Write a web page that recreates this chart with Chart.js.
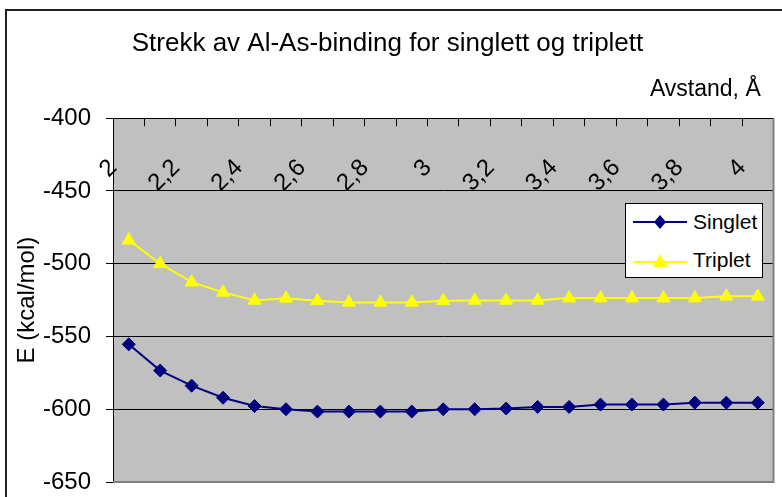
<!DOCTYPE html>
<html>
<head>
<meta charset="utf-8">
<script src="https://cdn.jsdelivr.net/npm/chart.js@4.4.0/dist/chart.umd.min.js"></script>
<style>
  body { margin: 0; background: #fff; overflow: hidden; }
  #wrap { position: relative; width: 782px; height: 497px; }
  #frame { position: absolute; left: 5px; top: 9px; width: 800px; height: 600px;
           border-left: 2px solid #222; border-top: 2px solid #222; pointer-events: none; }
  #legend { position: absolute; left: 625px; top: 203px; width: 136px; height: 73px;
            background: #fff; border: 1px solid #000;
            font: 21px "Liberation Sans", Arial, sans-serif; color: #000; }
  .row { position: absolute; left: 7px; height: 24px; display: flex; align-items: center; }
  .row svg { margin-right: 6px; }
</style>
</head>
<body>
<div id="wrap">
  <canvas id="chart" width="782" height="497"></canvas>
  <div id="frame"></div>
  <div id="legend">
    <div class="row" style="top:6px">
      <svg width="54" height="20"><line x1="0" y1="10" x2="54" y2="10" stroke="#000080" stroke-width="2"/>
        <polygon points="27,3 33,10 27,17 21,10" fill="#000080"/></svg>Singlet</div>
    <div class="row" style="top:44px">
      <svg width="54" height="20"><line x1="0" y1="12" x2="54" y2="12" stroke="#ffff00" stroke-width="2"/>
        <polygon points="27,4 34,17 20,17" fill="#ffff00"/></svg>Triplet</div>
  </div>
</div>
<script>
// Avstand i Å (kategorier)
const distances = ['2', '2,1', '2,2', '2,3', '2,4', '2,5', '2,6', '2,7', '2,8', '2,9',
  '3', '3,1', '3,2', '3,3', '3,4', '3,5', '3,6', '3,7', '3,8', '3,9', '4'];

// Energi (kcal/mol)
const singlet = [-555.4, -573.4, -583.8, -592.1, -597.8, -600, -601.6, -601.6, -601.6, -601.6,
  -600, -600, -599.5, -598.4, -598.4, -596.8, -596.8, -596.8, -595.5, -595.5, -595.5];
const triplet = [-483.8, -500, -512.7, -519.7, -525.2, -523.8, -525.5, -526.6, -526.6, -526.6,
  -525.4, -525.2, -525.2, -525.2, -523.6, -523.6, -523.6, -523.6, -523.6, -522.4, -522.4];

const yTicks = [-400, -450, -500, -550, -600, -650];

const font = '"Liberation Sans", Arial, sans-serif';

// grå plotflate
const plotArea = {
  id: 'plotArea',
  beforeDraw(chart) {
    const {ctx, chartArea: a} = chart;
    ctx.save();
    ctx.fillStyle = '#fff';
    ctx.fillRect(0, 0, chart.width, chart.height);
    ctx.fillStyle = '#c0c0c0';
    ctx.fillRect(a.left, a.top, a.right - a.left, a.bottom - a.top);
    ctx.restore();
  },
  afterDraw(chart) {
    const {ctx, chartArea: a} = chart;
    ctx.save();
    ctx.strokeStyle = '#808080';
    ctx.lineWidth = 2;
    ctx.beginPath();
    ctx.moveTo(a.right, a.top);
    ctx.lineTo(a.right, a.bottom);
    ctx.lineTo(a.left, a.bottom);
    ctx.stroke();
    ctx.restore();
  }
};

function noPad(scale) {
  scale.paddingLeft = 0;
  scale.paddingRight = 0;
  scale.paddingTop = 0;
  scale.paddingBottom = 0;
}

new Chart(document.getElementById('chart'), {
  type: 'line',
  data: {
    labels: distances,
    datasets: [{
      label: 'Singlet',
      data: singlet,
      borderColor: '#000080',
      backgroundColor: '#000080',
      borderWidth: 2,
      pointStyle: 'rectRot',
      pointRadius: 6.5,
      pointBorderWidth: 1,
      tension: 0
    }, {
      label: 'Triplet',
      data: triplet,
      borderColor: '#ffff00',
      backgroundColor: '#ffff00',
      borderWidth: 2,
      pointStyle: 'triangle',
      pointRadius: 7.5,
      pointBorderWidth: 1,
      tension: 0
    }]
  },
  options: {
    responsive: false,
    animation: false,
    layout: { padding: { top: 0, left: 0, right: 7, bottom: 15 } },
    plugins: {
      legend: { display: false },
      tooltip: { enabled: false },
      title: {
        display: true,
        text: 'Strekk av Al-As-binding for singlett og triplett',
        color: '#000',
        font: { family: font, size: 26, weight: 'normal' },
        padding: { top: 28, bottom: 10 }
      }
    },
    scales: {
      x: {
        position: 'top',
        offset: true,
        afterFit(scale) { scale.height = 49; noPad(scale); },
        grid: { offset: true, drawOnChartArea: false, tickLength: -8, color: '#000' },
        border: { color: '#000', width: 1 },
        title: {
          display: true,
          text: 'Avstand, Å  ',
          align: 'end',
          color: '#000',
          font: { family: font, size: 23 },
          padding: { top: 7, bottom: 0 }
        },
        ticks: {
          autoSkip: false,
          mirror: true,
          padding: 59,
          labelOffset: -39,
          minRotation: 45,
          maxRotation: 45,
          color: '#000',
          font: { family: font, size: 24 },
          callback(val, i) {
            if (i % 2) return '';
            const lab = this.getLabelForValue(val);
            return lab.includes(',') ? lab : '   ' + lab;
          }
        }
      },
      y: {
        min: yTicks[yTicks.length - 1],
        max: yTicks[0],
        afterFit(scale) { scale.width = 113; noPad(scale); },
        grid: { color: '#000', tickLength: 7 },
        border: { color: '#000', width: 1 },
        title: {
          display: true,
          text: 'E (kcal/mol)',
          color: '#000',
          font: { family: font, size: 24 },
          padding: { top: 13, bottom: 0 }
        },
        ticks: {
          stepSize: 50,
          padding: 15,
          color: '#000',
          font: { family: font, size: 24 }
        }
      }
    }
  },
  plugins: [plotArea]
});
</script>
</body>
</html>
